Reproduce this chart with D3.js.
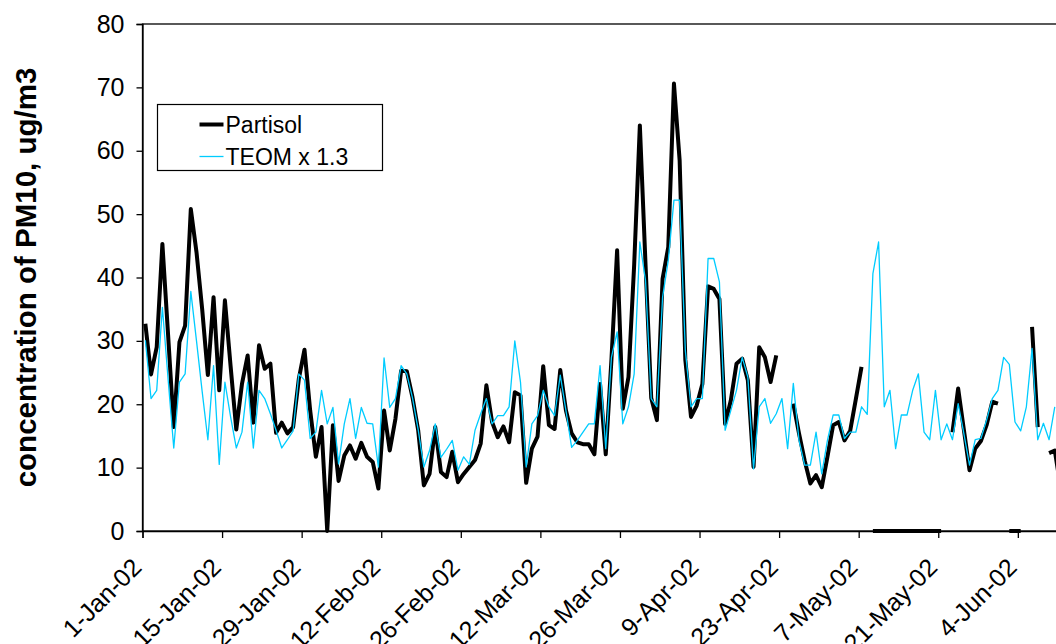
<!DOCTYPE html>
<html>
<head>
<meta charset="utf-8">
<script src="https://cdn.jsdelivr.net/npm/d3@7"></script>
<style>
  html, body { margin: 0; padding: 0; background: #fff; overflow: hidden; }
  svg { display: block; font-family: "Liberation Sans", Arial, sans-serif; }
</style>
</head>
<body>
<svg id="chart" width="1056" height="644"></svg>
<script>
// Daily PM10 concentrations (ug/m3), one value per day starting 1 Jan 2002.
// null = no sample that day.
const startDay = "2002-01-01";

const partisol = [
  32.7, 24.7, 29.0, 45.3, 31.0, 16.4, 29.8, 32.4, 50.8, 44.0,
  35.0, 24.6, 36.9, 22.2, 36.4, 26.0, 16.0, 23.2, 27.7, 17.1,
  29.3, 25.6, 26.4, 15.5, 17.1, 15.4, 16.4, 24.0, 28.6, 19.0,
  11.7, 16.4, 0.0, 16.7, 7.9, 11.9, 13.5, 11.4, 13.9, 11.7,
  10.9, 6.7, 19.0, 12.7, 17.7, 25.3, 25.2, 21.1, 15.9, 7.2,
  9.0, 16.4, 9.3, 8.5, 12.5, 7.7, 9.0, 10.1, 11.2, 13.8,
  23.0, 17.2, 14.8, 16.5, 14.0, 21.9, 21.4, 7.6, 13.0, 14.9,
  26.0, 16.7, 16.1, 25.4, 19.0, 15.4, 14.0, 13.7, 13.7, 12.1,
  23.2, 12.1, 27.0, 44.3, 19.3, 24.3, 42.0, 64.0, 42.0, 21.0,
  17.5, 39.8, 44.8, 70.6, 58.5, 27.0, 18.0, 19.8, 23.2, 38.6,
  38.2, 36.6, 16.9, 20.6, 26.4, 27.2, 23.8, 10.1, 29.0, 27.4,
  23.5, 27.7, null, null, 20.1, 15.4, 11.1, 7.5, 8.8, 6.9,
  11.7, 16.7, 17.2, 14.3, 15.8, 20.8, 25.9, null, 0, 0,
  0, 0, 0, 0, 0, 0, 0, 0, 0, 0,
  0, null, 15.6, 22.5, 16.0, 9.6, 13.0, 14.2, 16.7, 20.4,
  20.1, null, 0, 0, 0, null, 32.2, 16.4, null, 12.3,
  12.7, 7.0
];

const teom = [
  30.1, 20.9, 22.2, 35.3, 24.0, 13.1, 23.5, 24.8, 37.8, 30.0,
  22.0, 14.4, 26.1, 10.5, 23.5, 18.0, 13.1, 15.6, 23.5, 13.1,
  22.2, 20.9, 18.5, 15.9, 13.1, 14.4, 15.8, 24.8, 23.8, 14.6,
  15.6, 22.2, 16.9, 19.5, 10.6, 16.9, 20.9, 14.6, 19.5, 17.0,
  16.9, 10.1, 27.3, 19.5, 20.9, 26.1, 24.8, 21.0, 16.0, 10.1,
  12.7, 16.9, 11.6, 12.9, 14.3, 9.6, 11.7, 10.5, 15.9, 18.5,
  20.9, 16.9, 18.2, 18.2, 19.6, 30.0, 23.5, 10.1, 16.9, 18.2,
  22.2, 19.6, 18.2, 24.6, 19.0, 13.2, 14.3, 15.6, 16.9, 16.9,
  26.1, 13.0, 27.4, 31.4, 16.9, 19.6, 24.8, 45.6, 39.5, 20.9,
  19.6, 36.9, 42.7, 52.2, 52.2, 28.5, 19.6, 20.9, 20.9, 43.0,
  43.0, 39.3, 15.9, 19.0, 22.2, 27.4, 24.3, 9.8, 19.6, 20.9,
  17.0, 18.5, 20.9, 13.0, 23.3, 14.3, 10.4, 10.4, 15.6, 9.0,
  14.3, 18.3, 18.3, 14.6, 15.6, 15.6, 19.6, 18.4, 40.6, 45.6,
  19.6, 22.2, 13.0, 18.3, 18.3, 22.2, 24.8, 15.6, 14.4, 22.2,
  14.4, 16.9, 14.4, 20.1, 15.4, 10.4, 14.4, 14.6, 17.5, 20.9,
  22.2, 27.4, 26.3, 17.2, 15.8, 19.6, 28.8, 14.4, 17.0, 14.4,
  19.6
];

const xTickLabels = [
  "1-Jan-02", "15-Jan-02", "29-Jan-02", "12-Feb-02", "26-Feb-02", "12-Mar-02",
  "26-Mar-02", "9-Apr-02", "23-Apr-02", "7-May-02", "21-May-02", "4-Jun-02"
];
const yTicks = [0, 10, 20, 30, 40, 50, 60, 70, 80];

const seriesNames = ["Partisol", "TEOM x 1.3"];

// ---- layout ----
const plotLeft = 142.5, plotTop = 24, plotBottom = 531;
const pxPerDay = 5.684;
const axisEnd = "2002-06-17";

const parseIso = d3.utcParse("%Y-%m-%d");
const parseTick = d3.utcParse("%d-%b-%y");
const t0 = parseIso(startDay);
const t1 = parseIso(axisEnd);
const nDays = d3.utcDay.count(t0, t1);

const x = d3.scaleUtc()
  .domain([t0, t1])
  .range([plotLeft, plotLeft + nDays * pxPerDay]);

const y = d3.scaleLinear()
  .domain([0, 80])
  .range([plotBottom, plotTop]);

// each sample sits in the middle of its day
const dayMid = i => d3.utcHour.offset(d3.utcDay.offset(t0, i), 12);

const svg = d3.select("#chart");

// plot frame
svg.append("rect")
  .attr("x", plotLeft).attr("y", plotTop)
  .attr("width", x.range()[1] - plotLeft)
  .attr("height", plotBottom - plotTop)
  .attr("fill", "none")
  .attr("stroke", "#000")
  .attr("stroke-width", 1.3);

// series
const line = d3.line()
  .defined(d => d.v != null)
  .x(d => x(d.t))
  .y(d => y(d.v));

const toPoints = arr => arr.map((v, i) => ({ t: dayMid(i), v }));

const plot = svg.append("g");

plot.append("path")
  .datum(toPoints(partisol))
  .attr("d", line)
  .attr("fill", "none")
  .attr("stroke", "#000")
  .attr("stroke-width", 4)
  .attr("stroke-linejoin", "round");

plot.append("path")
  .datum(toPoints(teom))
  .attr("d", line)
  .attr("fill", "none")
  .attr("stroke", "#00CCFF")
  .attr("stroke-width", 1.3)
  .attr("stroke-linejoin", "round");

// y axis
const yAxis = d3.axisLeft(y)
  .tickValues(yTicks)
  .tickSize(6)
  .tickPadding(12)
  .tickFormat(d3.format("d"));

const yg = svg.append("g")
  .attr("transform", `translate(${plotLeft},0)`)
  .call(yAxis);
yg.select(".domain").attr("stroke-width", 1.3);
yg.selectAll(".tick line").attr("stroke-width", 1.3);
yg.selectAll(".tick text")
  .attr("font-size", 25)
  .attr("font-family", "'Liberation Sans', Arial, sans-serif")
  .attr("fill", "#000");

// x axis
const tickDates = xTickLabels.map(s => parseTick(s));
const xAxis = d3.axisBottom(x)
  .tickValues(tickDates)
  .tickSize(7)
  .tickFormat((d, i) => xTickLabels[i]);

const xg = svg.append("g")
  .attr("transform", `translate(0,${plotBottom})`)
  .call(xAxis);
xg.select(".domain").attr("stroke-width", 1.3);
xg.selectAll(".tick line").attr("stroke-width", 1.3);
xg.selectAll(".tick text")
  .attr("font-size", 25)
  .attr("font-family", "'Liberation Sans', Arial, sans-serif")
  .attr("fill", "#000")
  .attr("text-anchor", "end")
  .attr("y", 0)
  .attr("dy", 0)
  .attr("transform", "translate(0,38) rotate(-45)");

// y axis title
svg.append("text")
  .attr("transform", `translate(36,${(plotTop + plotBottom) / 2}) rotate(-90)`)
  .attr("text-anchor", "middle")
  .attr("font-size", 29.5)
  .attr("font-weight", "bold")
  .text("concentration of PM10, ug/m3");

// legend
const legend = svg.append("g").attr("transform", "translate(157.5,104.5)");
legend.append("rect")
  .attr("width", 225).attr("height", 66)
  .attr("fill", "#fff")
  .attr("stroke", "#000")
  .attr("stroke-width", 1.2);

const legendItems = [
  { name: seriesNames[0], color: "#000", width: 4 },
  { name: seriesNames[1], color: "#00CCFF", width: 1.3 }
];
const li = legend.selectAll("g.item")
  .data(legendItems)
  .join("g")
  .attr("class", "item")
  .attr("transform", (d, i) => `translate(0,${20 + i * 32})`);
li.append("line")
  .attr("x1", 42).attr("x2", 66)
  .attr("stroke", d => d.color)
  .attr("stroke-width", d => d.width);
li.append("text")
  .attr("x", 68)
  .attr("dy", "0.35em")
  .attr("font-size", 23)
  .text(d => d.name);
</script>
</body>
</html>
